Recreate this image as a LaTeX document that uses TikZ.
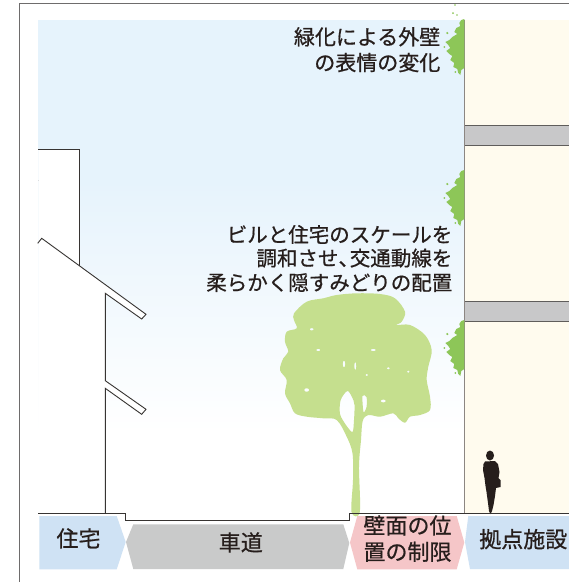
\documentclass[tikz,border=0pt]{standalone}
\usepackage{fontspec}
\newfontfamily\jp[FakeBold=0.7]{Noto Sans CJK JP}
\definecolor{sky}{RGB}{230,243,252}
\definecolor{cream}{RGB}{255,251,238}
\definecolor{band}{RGB}{200,200,201}
\definecolor{ink}{RGB}{38,30,28}
\definecolor{linedark}{RGB}{55,52,50}
\definecolor{wallgray}{RGB}{140,134,130}
\definecolor{framegray}{RGB}{110,108,108}
\definecolor{leaf}{RGB}{197,223,142}
\definecolor{vine}{RGB}{141,198,88}
\definecolor{tagblue}{RGB}{207,226,244}
\definecolor{taggray}{RGB}{201,202,202}
\definecolor{tagpink}{RGB}{245,198,200}
\tikzset{
  vinepatch/.pic={
    \fill[vine] (0,0) -- (-3,1) -- (-5,4) -- (-4,7) -- (-8,9) -- (-10,13) -- (-7,15)
      -- (-12,18) -- (-15,21) -- (-19,23) -- (-16,26) -- (-14,29) -- (-18,32)
      -- (-15,35) -- (-12,37) -- (-14,41) -- (-10,44) -- (-11,48) -- (-7,50)
      -- (-6,54) -- (-4,56) -- (-3,51) -- (0,49) -- cycle;
    \fill[vine] (-17,14) circle (1.2) (-20,28) circle (1) (-9,53) circle (1);
  }
}
\begin{document}
\begin{tikzpicture}[x=1pt,y=-1pt,
  outline/.style={draw=linedark,line width=0.9pt,line join=miter},
  bandbox/.style={fill=band,draw=linedark!80,line width=0.9pt},
  note/.style={font=\jp\fontsize{20.5}{25}\selectfont,text=ink,inner sep=0pt,
    text height=0.88em,text depth=0.12em,anchor=east},
  topnote/.style={note,font=\jp\fontsize{21}{25}\selectfont},
  tagtext/.style={font=\jp\fontsize{22}{26}\selectfont,text=ink,inner sep=0pt,
    text height=0.88em,text depth=0.12em}]
\useasboundingbox (0,0) rectangle (569,582);
\fill[white] (0,0) rectangle (569,582);

% sky, fading to white towards the ground
\fill[sky] (38.3,20) rectangle (464.3,181);
\fill[top color=sky,bottom color=white] (38.3,180) rectangle (464.3,432);

% large building on the right
\fill[cream] (464.3,20) rectangle (569,513.3);
\draw[bandbox] (464.3,125.7) rectangle (570,145.7);
\draw[bandbox] (464.3,301.7) rectangle (570,321.7);
\draw[wallgray,line width=1.3pt] (464.3,20) -- (464.3,513.3);

% house on the left with its eaves
\fill[white] (38.3,149.3) -- (79.3,149.3) -- (79.3,265.7) -- (146,314.3) -- (141.7,319)
  -- (105.3,293.3) -- (105.3,380.7) -- (146,409.3) -- (141.7,414.3) -- (105.3,388.3)
  -- (105.3,513.3) -- (38.3,513.3) -- cycle;
\draw[outline] (38.3,149.3) -- (79.3,149.3) -- (79.3,265.7);
\draw[outline] (37.7,243.3) -- (41.7,238.3) -- (146,314.3) -- (141.7,319) -- (105.3,293.3)
  -- (105.3,380.7) -- (146,409.3) -- (141.7,414.3) -- (105.3,388.3) -- (105.3,513.3);

% street tree
\fill[leaf,even odd rule]
  plot[smooth cycle,tension=0.55] coordinates {
    (294,313.3) (306.7,301.7) (323.3,298.3) (336.7,295) (356.7,293.3) (380,294)
    (395,298.3) (405,311.7) (401.7,321.7) (396.7,325) (410,325) (425,335)
    (431.7,350) (428.3,366.7) (426.7,380) (430,396.7) (430,410) (420,415)
    (410,416.7) (405,422.7) (398.3,418.3) (393.3,413.3) (380,416.7) (368.3,415)
    (362.7,421) (361,440) (359,466.7) (359.8,512) (351.5,512) (353,480)
    (352.5,453.3) (346.7,436.7) (336.7,420) (323.3,418.3) (306.7,416.7)
    (295,413.3) (290,403.3) (285,393.3) (286.7,380) (280,370) (283.3,358.3)
    (288.3,351.7) (285,341.7) (286.7,331.7) (296.7,328.3) (294,320)}
  plot[smooth cycle,tension=0.5] coordinates {
    (340.7,400) (347.3,391) (352,397) (354.5,405) (354,420) (352.5,432)
    (346,425) (340,414)}
  plot[smooth cycle,tension=0.5] coordinates {
    (362.5,396) (366.5,397) (366.5,407) (363.5,412)}
  (311.7,329.3) ellipse (2 and 1.2)
  (318.3,350) ellipse (2 and 1.2)
  (344,364) ellipse (1.3 and 3.5)
  (355.3,366) ellipse (1 and 4)
  (373.3,350) ellipse (2.5 and 1.2)
  (366.7,375) ellipse (1.5 and 1.2)
  (388.3,368.3) ellipse (1.8 and 1.2)
  (408.3,371.7) ellipse (1.5 and 1.2)
  (306.7,390) ellipse (2.5 and 1.8)
  (383.3,401) ellipse (2.5 and 1.5);

% greenery on the building wall
\pic at (464.3,19) {vinepatch};
\fill[vine] (455,5) circle (0.8) (453,13) circle (1) (457,15) circle (0.9);
\pic at (464.3,170) {vinepatch};
\pic at (464.3,320) {vinepatch};

% pedestrian
\fill[ink] (490,455.5) ellipse (4 and 5);
\fill[ink] (485,461.5) -- (495,461) -- (498,464) -- (499.5,472) -- (498.5,478)
  -- (500.5,480) -- (500.5,487) -- (496,488) -- (495,496) -- (493.5,505) -- (492,511)
  -- (490.5,514) -- (489,511) -- (488,503) -- (486.5,492) -- (485.5,486) -- (484.5,478)
  -- (483,470) -- (483.5,464) -- cycle;

% ground line with the lowered roadway
\draw[outline] (38.3,513.3) -- (125.7,513.3) -- (125.7,520.7) -- (349.3,520.7)
  -- (349.3,513.3) -- (570,513.3);

% zone tags along the bottom
\fill[tagblue] (39.3,516) -- (116.7,516) -- (125.7,542) -- (116.7,569.3) -- (39.3,569.3) -- cycle;
\fill[taggray] (133.3,524.3) -- (343.3,524.3) -- (349.3,543) -- (343.3,569) -- (133.3,569)
  -- (126,542) -- cycle;
\fill[tagpink] (357.3,516) -- (456.7,516) -- (464.3,542.5) -- (456.7,569.3) -- (357.3,569.3)
  -- (350,542.5) -- cycle;
\fill[tagblue] (468.3,516) -- (570,516) -- (570,569) -- (470,569) -- (465,542) -- cycle;

\node[tagtext] (house) at (78.5,543) {住宅};
\node[tagtext] (road) at (240.8,547) {車道};
\node[tagtext] (wallA) at (407.5,530) {壁面の位};
\node[tagtext] (wallB) at (407.5,556.3) {置の制限};
\node[tagtext] (base) at (523.3,543.7) {拠点施設};

% annotations
\node[topnote] (greenA) at (440.5,41) {緑化による外壁};
\node[topnote] (greenB) at (440.5,66.7) {の表情の変化};
\node[note] (treeA) at (452.5,238.5) {ビルと住宅のスケールを};
\node[note] (treeB) at (452.5,262) {調和させ、\kern-0.45em交通動線を};
\node[note] (treeC) at (452.5,286.5) {柔らかく隠すみどりの配置};

% page frame
\draw[framegray,line width=1pt] (19.5,582) -- (19.5,3.5) -- (570,3.5);
\end{tikzpicture}
\end{document}
